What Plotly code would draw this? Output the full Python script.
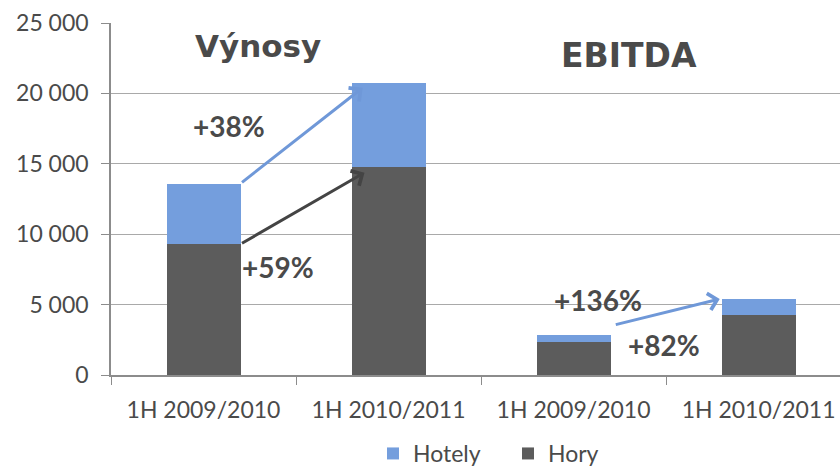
import plotly.graph_objects as go

categories = ["1H 2009/2010", "1H 2010/2011", "1H 2009/2010", "1H 2010/2011"]
hory = [9300, 14800, 2330, 4240]
hotely = [4300, 5950, 500, 1180]
y_ticks = [0, 5000, 10000, 15000, 20000, 25000]

BLUE = "#749edd"
DARK = "#5c5c5c"
TEXT = "#4a4a4a"
AXIS = "#8c8c8c"
GRID = "#a9a9a9"
FONT = "Lato"

xs = list(range(len(categories)))
fig = go.Figure()
fig.add_trace(go.Bar(x=xs, y=hory, name="Hory", marker=dict(color=DARK, line=dict(width=0)), width=0.4))
fig.add_trace(go.Bar(x=xs, y=hotely, name="Hotely", marker=dict(color=BLUE, line=dict(width=0)), width=0.4))
fig.add_trace(go.Scatter(x=xs, y=[0]*4, xaxis="x2", mode="markers", marker=dict(opacity=0), showlegend=False, hoverinfo="skip"))

tot = [a + b for a, b in zip(hory, hotely)]
ann = []
def arrow(x0, y0, x1, y1, color):
    ann.append(dict(x=x1, y=y1, ax=x0, ay=y0, xref="x", yref="y", axref="x", ayref="y",
                    text="", showarrow=True, arrowhead=4, arrowsize=1.1, arrowwidth=3,
                    arrowcolor=color, standoff=0, startstandoff=0))
arrow(0.2, tot[0], 0.86, tot[1] - 350, "#6f98d8")
arrow(0.2, hory[0], 0.87, hory[1] - 430, "#444444")
arrow(2.22, tot[2] + 720, 2.79, tot[3] - 20, "#6f98d8")

def label(x, y, t, size, family):
    ann.append(dict(x=x, y=y, xref="x", yref="y", text="<b>" + t + "</b>", showarrow=False,
                    font=dict(family=family, size=size, color=TEXT)))
label(0.297, 23400, "Výnosy", 31, "DejaVu Sans")
label(2.297, 22690, "EBITDA", 33, "DejaVu Sans")
label(0.14, 17710, "+38%", 28, FONT)
label(0.40, 7680, "+59%", 28, FONT)
label(2.134, 5330, "+136%", 28, FONT)
label(2.49, 2130, "+82%", 28, FONT)

fig.update_layout(
    width=840, height=467,
    margin=dict(l=111, r=0, t=23, b=92, autoexpand=False),
    paper_bgcolor="white", plot_bgcolor="white",
    barmode="stack",
    separators=", ",
    font=dict(family=FONT, size=22, color=TEXT),
    showlegend=True,
    legend=dict(orientation="h", x=(385 - 111 - 12) / 729, xanchor="left", y=-0.223, yanchor="middle",
                traceorder="reversed", font=dict(size=23, color=TEXT), itemwidth=30,
                entrywidth=90, entrywidthmode="pixels"),
    xaxis=dict(range=[-0.5, 3.44], tickmode="array", tickvals=[-0.5, 0.5, 1.5, 2.5, 3.5],
               ticktext=["", "", "", "", ""], ticks="outside", ticklen=8, tickcolor=AXIS, tickwidth=1,
               showline=True, linecolor=AXIS, linewidth=1.5, showgrid=False, zeroline=False,
               automargin=False),
    xaxis2=dict(range=[-0.5, 3.44], overlaying="x", anchor="y", side="bottom", tickmode="array",
                tickvals=xs, ticktext=categories, ticks="", showline=False, showgrid=False,
                zeroline=False, tickfont=dict(size=23, color=TEXT), ticklabelstandoff=19,
                automargin=False),
    yaxis=dict(range=[0, 25000], tickmode="array", tickvals=y_ticks, tickformat=",d",
               ticks="outside", ticklen=8, tickcolor=AXIS, showline=True, linecolor=AXIS, linewidth=1.5,
               showgrid=True, gridcolor=GRID, gridwidth=1.3, zeroline=False,
               tickfont=dict(size=23, color=TEXT), ticklabelstandoff=8, automargin=False),
    annotations=ann,
)
fig.write_html("out.html", config={"displayModeBar": False},
               post_script="document.body.style.margin='0';document.body.style.overflow='hidden';")
